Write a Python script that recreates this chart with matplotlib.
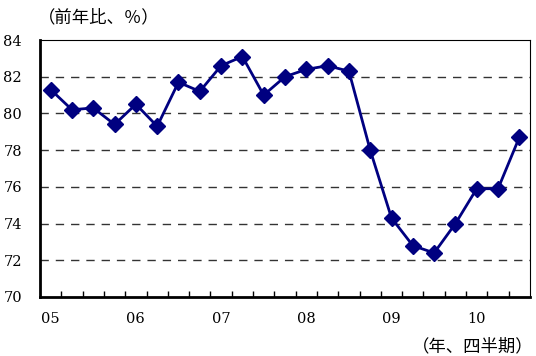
import matplotlib.pyplot as plt
import numpy as np

plt.rcParams['font.family'] = ['DejaVu Serif', 'Noto Sans CJK JP']

# quarterly values, 2005Q1 - 2010Q3
values = [81.3, 80.2, 80.3, 79.4, 80.5, 79.3, 81.7, 81.2, 82.6, 83.1, 81.0, 82.0,
          82.4, 82.6, 82.3, 78.0, 74.3, 72.8, 72.4, 74.0, 75.9, 75.9, 78.7]
year_labels = ['05', '06', '07', '08', '09', '10']
y_ticks = [70, 72, 74, 76, 78, 80, 82, 84]

fig = plt.figure(figsize=(5.36, 3.56), dpi=100)
ax = fig.add_axes([40 / 536, 59 / 356, 490 / 536, 257 / 356])

x = np.arange(len(values))
ax.plot(x, values, color='#000080', lw=2, marker='D', ms=8, zorder=3)

ax.set_xlim(-0.5, len(values) - 0.5)
ax.set_ylim(70, 84)
ax.set_yticks(y_ticks)
ax.set_yticklabels([str(v) for v in y_ticks], fontsize=10.5)
ax.tick_params(axis='y', length=0, pad=13)

for v in y_ticks[1:-1]:
    ax.axhline(v, color='#333333', lw=1, ls=(0, (6, 5)), zorder=1)

# quarter boundaries as ticks, year labels at first quarter
ax.set_xticks(np.arange(0.5, len(values) - 1, 1))
ax.set_xticklabels([])
ax.tick_params(axis='x', direction='in', length=4, width=1)
for i, lab in enumerate(year_labels):
    ax.text(i * 4, 69.2, lab, ha='center', va='top', fontsize=10.5)

ax.spines['left'].set_linewidth(2)
ax.spines['bottom'].set_linewidth(2)
ax.spines['top'].set_linewidth(0.8)
ax.spines['right'].set_linewidth(0.8)

fig.text(38 / 536, 1 - 18 / 356, '（前年比、％）', fontsize=12.5, va='center', ha='left')
fig.text(1 - 2 / 536, 1 - 347 / 356, '（年、四半期）', fontsize=12.5, va='center', ha='right')

fig.savefig('out.png', dpi=100)
